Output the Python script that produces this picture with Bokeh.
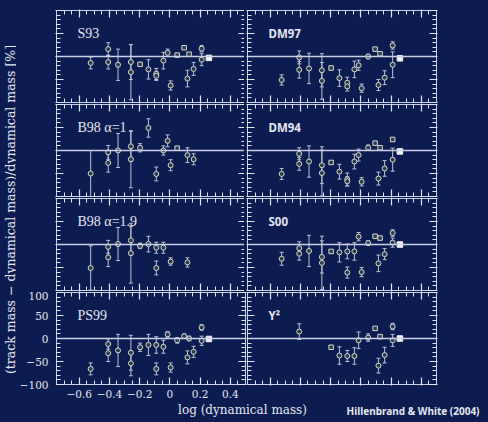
import numpy as np
from bokeh.plotting import figure
from bokeh.models import (Range1d, FixedTicker, LinearAxis, Label, Whisker,
                          ColumnDataSource, TeeHead, Span, CustomJSTickFormatter)
from bokeh.layouts import gridplot, row, column
from bokeh.embed import file_html
from bokeh.resources import INLINE

# log of the dynamical mass of each star (same stars in every panel)
log_mdyn = [-0.524, -0.408, -0.408, -0.343, -0.258, -0.258, -0.197, -0.142,
            -0.090, -0.090, -0.043, -0.015, 0.005, 0.048, 0.094, 0.116,
            0.127, 0.157, 0.210, 0.210, 0.258]

# (track mass - dynamical mass)/dynamical mass [%] and its uncertainty, per track set
# None in *_err: no error estimate; None in *_pct: star not covered by the tracks
s93_pct = [-14, 16, -12, -18, -12, -34, -17, -28, -38, -42, -9, 8, -63, 3, 19, -48, 5, -27, 17, -7, -3]
s93_err = [13, 14, 15, 34, 38, 60, None, 21, 12, 10, 18, 8, 10, None, None, 18, None, 14, 7, 13, None]

dm97_pct = [-51, -2, -29, -26, -30, -53, -25, -47, -57, -65, -28, -19, -69, 0, 16, -62, 6, -46, 24, -18, -4]
dm97_err = [11, 14, 18, 33, 36, 40, None, 18, 12, 10, 18, 11, 9, 5, None, 12, None, 15, 8, 28, None]

b98a1_pct = [-50, -4, -27, 0, 9, -19, 6, 49, -51, None, 0, 21, -32, 5, None, -10, None, -19, None, None, None]
b98a1_err = [50, 15, 20, 37, 33, 62, 9, 20, 15, None, 10, 13, 12, None, None, 16, None, 12, None, None, None]

dm94_pct = [-51, -7, -29, -24, -32, -49, -26, -46, -63, -67, -24, -10, -68, 6, 16, -61, 6, -39, 24, -20, -2]
dm94_err = [12, 13, 14, 34, 40, 50, None, 16, 14, 10, 16, 13, 9, 6, None, 14, None, 17, None, 25, None]

b98a19_pct = [-51, -5, -28, 1, 9, -19, -3, 1, -7, -51, -7, None, -37, None, None, -39, None, None, None, None, None]
b98a19_err = [48, 14, 20, 36, 30, 65, 6, 17, 12, 15, 12, None, 8, None, None, 10, None, None, None, None, None]

s00_pct = [-31, -8, -20, -14, -27, -40, -15, -17, -15, -61, -15, 17, -60, 3, 18, -41, 14, -21, 25, 4, 0]
s00_err = [14, 14, 14, 34, 35, 58, None, 21, 16, 12, 19, 9, 10, 5, None, 18, None, 12, 7, 10, None]

ps99_pct = [-66, -12, -32, -26, -31, -54, -19, -14, -14, -66, -18, 9, -63, -4, 5, -41, 0, -29, 24, -5, -1]
ps99_err = [13, 11, 18, 35, 38, 27, 9, 23, 18, 13, 14, 6, 10, 6, 5, 14, 5, 12, 6, 10, None]

y2_pct = [None, 15, None, None, None, None, -19, -37, -38, None, -38, -4, None, 2, 22, -59, 4, -36, 26, -4, 0]
y2_err = [None, 17, None, None, None, None, None, 19, 12, None, 18, 18, None, 8, None, 16, None, 17, 7, 13, None]

panel_names = ["S93", "DM97", "B98  \u03b1=1", "DM94", "B98  \u03b1=1.9", "S00", "PS99", "Y\u00b2"]
panel_pct = [s93_pct, dm97_pct, b98a1_pct, dm94_pct, b98a19_pct, s00_pct, ps99_pct, y2_pct]
panel_err = [s93_err, dm97_err, b98a1_err, dm94_err, b98a19_err, s00_err, ps99_err, y2_err]

x_ticks = [-0.6, -0.4, -0.2, 0.0, 0.2, 0.4]
x_minor = [round(v, 2) for v in np.arange(-0.75, 0.501, 0.05)]
y_ticks = [-100, -50, 0, 50, 100]
y_minor = list(range(-100, 101, 10))

BG = "#0d1c50"
FG = "#c9d0e6"
TICK = "#e0e5f4"
TXT = "#e4e7f2"
MK = "#d8dcc4"
MKF = "#2c3858"
ERR = "#b9c0d4"

XLO, XHI = -0.75, 0.5
FW = 189
FH = [92, 92, 92, 92]
top_star = int(np.argmax(log_mdyn))

x_fmt = CustomJSTickFormatter(code="""
    var s = Math.abs(tick) < 1e-9 ? '0' : tick.toFixed(1);
    return s.replace('-', '\\u2212');""")
y_fmt = CustomJSTickFormatter(code="return Math.round(tick).toString().replace('-', '\\u2212');")
no_fmt = CustomJSTickFormatter(code="return '';")


def style_axis(ax, show, fmt):
    ax.axis_line_color = FG
    ax.axis_line_width = 1
    ax.major_tick_line_color = TICK
    ax.minor_tick_line_color = TICK
    ax.major_tick_line_width = 1.2
    ax.minor_tick_line_width = 1
    ax.major_tick_in = 7
    ax.minor_tick_in = 4
    ax.minor_tick_out = 0
    if show:
        ax.major_tick_out = 0
        ax.formatter = fmt
        ax.major_label_text_font = "DejaVu Serif"
        ax.major_label_text_font_size = "10.5px"
        ax.major_label_text_color = TXT
    else:
        # unlabelled edge: a 1px outward tick keeps the axis strip non-empty so it is painted
        ax.major_tick_out = 1
        ax.formatter = no_fmt
        ax.major_label_text_font_size = "0px"
        ax.major_label_standoff = 0


def make_panel(k):
    r, c = divmod(k, 2)
    left = c == 0
    bottom = r == 3
    p = figure(frame_width=FW, frame_height=FH[r],
               x_range=Range1d(XLO, XHI), y_range=Range1d(-100, 100),
               x_axis_type=None, y_axis_type=None,
               output_backend="svg", toolbar_location=None,
               min_border_left=38 if left else 0, min_border_right=0 if left else 54,
               min_border_top=10 if r == 0 else 0, min_border_bottom=18 if bottom else 0,
               background_fill_color=BG, border_fill_color=BG,
               outline_line_color=FG, outline_line_width=1)

    for place in ("below", "above"):
        show = place == "below" and left and bottom
        ax = LinearAxis(ticker=FixedTicker(ticks=x_ticks, minor_ticks=x_minor))
        style_axis(ax, show, x_fmt)
        if show:
            ax.major_label_standoff = 5
        p.add_layout(ax, place)
    for place in ("left", "right"):
        show = place == "left" and left and bottom
        ax = LinearAxis(ticker=FixedTicker(ticks=y_ticks, minor_ticks=y_minor))
        style_axis(ax, show, y_fmt)
        if show:
            ax.major_label_standoff = 8
        p.add_layout(ax, place)

    p.add_layout(Span(location=0, dimension="width", line_color=FG, line_width=1.3))

    circ = dict(x=[], y=[], lo=[], hi=[])
    sq = dict(x=[], y=[])
    top = dict(x=[], y=[])
    for i, (x, v, e) in enumerate(zip(log_mdyn, panel_pct[k], panel_err[k])):
        if v is None:
            continue
        if e is not None:
            circ["x"].append(x); circ["y"].append(v)
            circ["lo"].append(v - e); circ["hi"].append(v + e)
        elif i == top_star:
            top["x"].append(x); top["y"].append(v)
        else:
            sq["x"].append(x); sq["y"].append(v)

    csrc = ColumnDataSource(circ)
    p.add_layout(Whisker(source=csrc, base="x", lower="lo", upper="hi",
                         line_color=ERR, line_width=1,
                         upper_head=TeeHead(size=4, line_color=ERR, line_width=1),
                         lower_head=TeeHead(size=4, line_color=ERR, line_width=1)))
    p.scatter("x", "y", source=csrc, marker="circle", size=5,
              line_color=MK, fill_color=MKF, line_width=1)
    p.scatter("x", "y", source=ColumnDataSource(sq), marker="square", size=4.5,
              line_color=MK, fill_color=MKF, line_width=1)
    p.scatter("x", "y", source=ColumnDataSource(top), marker="square", size=5.5,
              line_color="#f2f2f2", fill_color="#f2f2f2", line_width=1)

    xpx = (XHI - XLO) / FW
    ypx = 200.0 / FH[r]
    if left:
        font, size, style = "Liberation Serif", "14px", "normal"
    else:
        font, size, style = "Noto Sans", "11.5px", "bold"
    p.add_layout(Label(x=XLO + 21 * xpx, y=100 - 23 * ypx, text=panel_names[k],
                       text_font=font, text_font_size=size, text_font_style=style,
                       text_color=TXT, text_baseline="alphabetic"))
    return p


panels = [make_panel(k) for k in range(8)]
grid = gridplot([panels[0:2], panels[2:4], panels[4:6], panels[6:8]], toolbar_location=None)

# rotated y title
ytitle = figure(width=16, height=422, x_range=Range1d(0, 16), y_range=Range1d(0, 422),
                x_axis_type=None, y_axis_type=None, min_border=0,
                outline_line_color=None, background_fill_color=BG, border_fill_color=BG,
                output_backend="svg", toolbar_location=None)
ytitle.add_layout(Label(x=9.5, y=213, angle=np.pi / 2,
                        text="(track mass \u2212 dynamical mass)/dynamical mass [%]",
                        text_font="DejaVu Serif", text_font_size="12.5px", text_color=TXT,
                        text_align="center", text_baseline="middle"))

# x title and credit line
xtitle = figure(width=472, height=20, x_range=Range1d(0, 472), y_range=Range1d(0, 20),
                x_axis_type=None, y_axis_type=None, min_border=0,
                outline_line_color=None, background_fill_color=BG, border_fill_color=BG,
                output_backend="svg", toolbar_location=None)
xtitle.add_layout(Label(x=226, y=13, text="log (dynamical mass)",
                        text_font="DejaVu Serif", text_font_size="12px", text_color=TXT,
                        text_align="center", text_baseline="middle"))
xtitle.add_layout(Label(x=463, y=12, text="Hillenbrand & White (2004)",
                        text_font="Noto Sans", text_font_size="10px", text_font_style="bold",
                        text_color=TXT, text_align="right", text_baseline="middle"))

layout = row(ytitle, column(grid, xtitle), styles={"background-color": BG})

open("out.html", "w").write(file_html(layout, INLINE))
